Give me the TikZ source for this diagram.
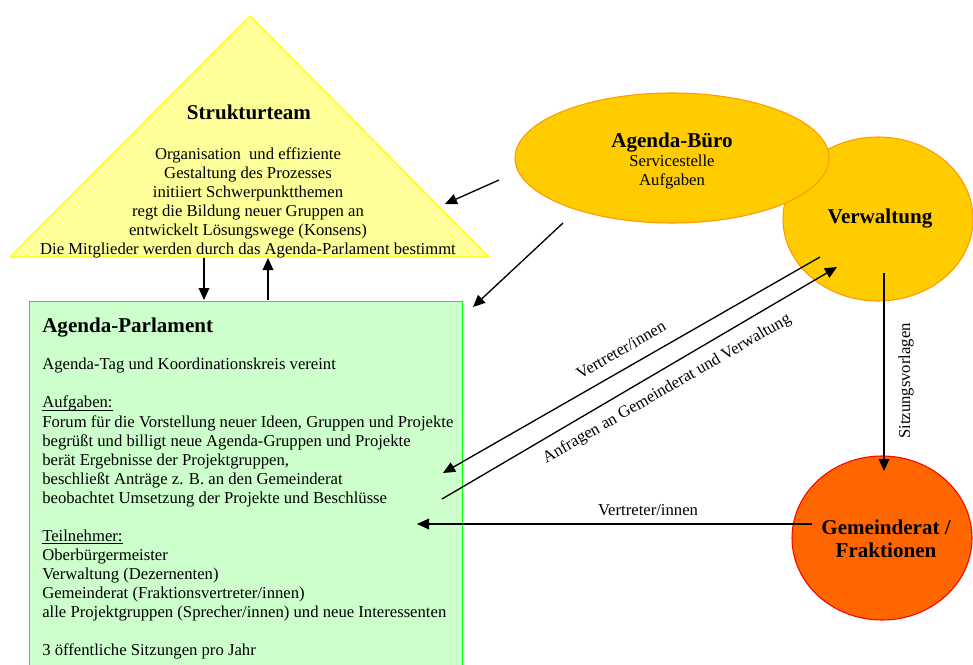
\documentclass[tikz,border=0pt]{standalone}
\usepackage{fontspec}
\setmainfont{Liberation Serif}
\usetikzlibrary{arrows.meta,shapes.geometric}
\definecolor{triFill}{HTML}{FFFF99}
\definecolor{triLine}{HTML}{FFFF00}
\definecolor{boxFill}{HTML}{CCFFCC}
\definecolor{boxLine}{HTML}{00FF00}
\definecolor{buroFill}{HTML}{FFCC00}
\definecolor{buroLine}{HTML}{FF9900}
\definecolor{gemFill}{HTML}{FF6600}
\definecolor{gemLine}{HTML}{FF0000}
\newcommand{\myul}[1]{\underline{\smash{#1}}}
\tikzset{
  body/.style={font=\fontsize{12.5pt}{14.3pt}\selectfont, inner sep=0pt},
  ttl/.style={font=\fontsize{15.8pt}{18pt}\selectfont\bfseries, inner sep=0pt},
  conn/.style={line width=1pt, -{Triangle[length=9pt,width=8pt]}},
  oval/.style={ellipse, line width=0.8pt, inner sep=0pt, align=center},
}
\begin{document}
\begin{tikzpicture}[x=0.75pt,y=-0.75pt]
\useasboundingbox (0,0) rectangle (973,664);
\clip (0,0) rectangle (973,664);

% Strukturteam triangle
\fill[triFill] (250,16) -- (489,257) -- (10,257) -- cycle;
\draw[triLine, line width=1pt] (250,16) -- (489,257) -- (10,257) -- cycle;
\node[ttl, anchor=base] (struk) at (249,119) {Strukturteam};
\node[body, anchor=north, align=center] (struktext) at (248,147) {Organisation~ und effiziente\\ Gestaltung des Prozesses\\ initiiert Schwerpunktthemen\\ regt die Bildung neuer Gruppen an\\ entwickelt Lösungswege (Konsens)\\ Die Mitglieder werden durch das Agenda-Parlament bestimmt};

% Agenda-Parlament box
\node[draw=boxLine, fill=boxFill, line width=1pt, rectangle, anchor=north west, minimum width=324.75pt, minimum height=280pt, inner sep=0pt] (parl) at (29,301) {};
\node[ttl, anchor=base west] (parltitle) at (42,332) {Agenda-Parlament};
\node[body, anchor=north west, align=left] (parltext) at (42,358) {Agenda-Tag und Koordinationskreis vereint\\[14.3pt]
\myul{Aufgaben:}\\
Forum für die Vorstellung neuer Ideen, Gruppen und Projekte\\
begrüßt und billigt neue Agenda-Gruppen und Projekte\\
berät Ergebnisse der Projektgruppen,\\
beschließt Anträge z. B. an den Gemeinderat\\
beobachtet Umsetzung der Projekte und Beschlüsse\\[14.3pt]
\myul{Teilnehmer:}\\
Oberbürgermeister\\
Verwaltung (Dezernenten)\\
Gemeinderat (Fraktionsvertreter/innen)\\
alle Projektgruppen (Sprecher/innen) und neue Interessenten\\[14.3pt]
3 öffentliche Sitzungen pro Jahr};

% Verwaltung (behind Agenda-Buero)
\node[oval, draw=buroLine, fill=buroFill, minimum width=142.5pt, minimum height=123pt] (verw) at (878,219) {};
\node[ttl] (verwtext) at (880,219) {Verwaltung};

% Agenda-Buero
\node[oval, draw=buroLine, fill=buroFill, minimum width=235.5pt, minimum height=97.5pt] (buro) at (672,158) {};
\node[body, align=center] (burotext) at (672,161) {{\fontsize{15.8pt}{18pt}\selectfont\bfseries Agenda-Büro}\\ Servicestelle\\ Aufgaben};

% Gemeinderat
\node[oval, draw=gemLine, fill=gemFill, minimum width=135pt, minimum height=123pt] (gem) at (882,538) {};
\node[ttl, align=center, font=\fontsize{15.8pt}{17.5pt}\selectfont\bfseries] (gemtext) at (886,539) {Gemeinderat /\\ Fraktionen};

% connector end points
\coordinate (b1s) at (499,180);
\coordinate (b1e) at (445,204);
\coordinate (b2s) at (563,223);
\coordinate (b2e) at (473,307);
\coordinate (s1s) at (204,258);
\coordinate (s1e) at (204,300);
\coordinate (p1s) at (268,300);
\coordinate (p1e) at (268,258);
\coordinate (v1s) at (820,257);
\coordinate (v1e) at (443,473);
\coordinate (p2s) at (442,499);
\coordinate (p2e) at (837,267);
\coordinate (v2s) at (884,273);
\coordinate (v2e) at (884,471);
\coordinate (g1s) at (812,524);
\coordinate (g1e) at (417,524);

\draw[conn] (b1s) -- (b1e);
\draw[conn] (b2s) -- (b2e);
\draw[conn] (s1s) -- (s1e);
\draw[conn] (p1s) -- (p1e);
\draw[conn] (v1s) -- (v1e);
\draw[conn] (p2s) -- (p2e);
\draw[conn] (v2s) -- (v2e);
\draw[conn] (g1s) -- (g1e);

% labels
\node[body, rotate=30] (lab1) at (621,350) {Vertreter/innen};
\node[body, rotate=30] (lab2) at (667,389) {Anfragen an Gemeinderat und Verwaltung};
\node[body, rotate=90] (lab3) at (906,381) {Sitzungsvorlagen};
\node[body] (lab4) at (648,510) {Vertreter/innen};
\end{tikzpicture}
\end{document}
